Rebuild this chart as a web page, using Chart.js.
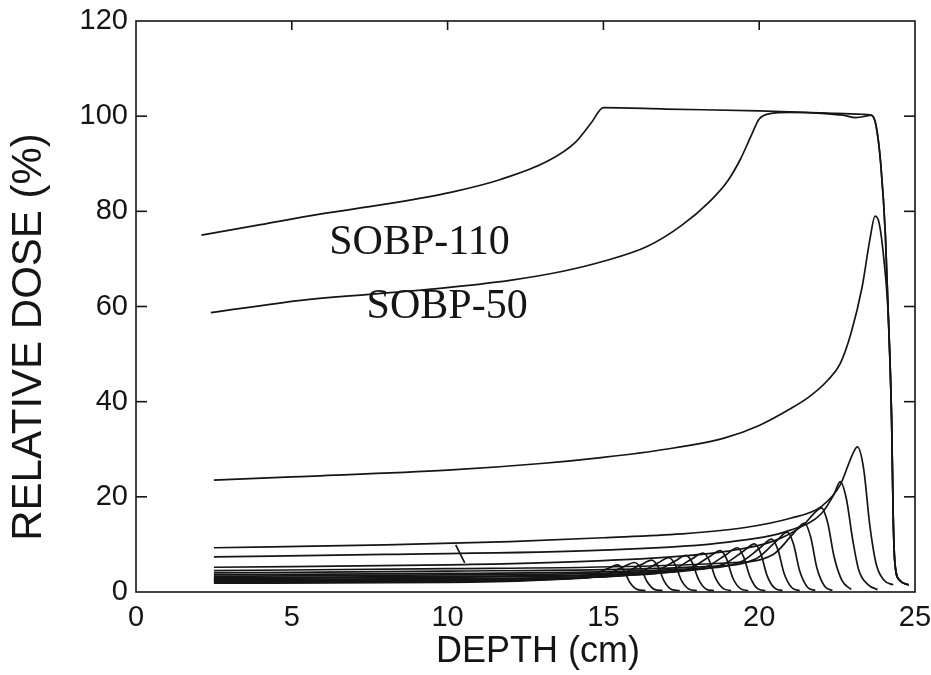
<!DOCTYPE html>
<html>
<head>
<meta charset="utf-8">
<script src="https://cdn.jsdelivr.net/npm/chart.js@4/dist/chart.umd.min.js"></script>
<style>
  html, body { margin: 0; padding: 0; background: #fff; }
  #chart { display: block; }
</style>
</head>
<body>
<canvas id="chart" width="931" height="675"></canvas>
<script>
// Axis ticks
const depthTicks = [0, 5, 10, 15, 20, 25];
const doseTicks = [0, 20, 40, 60, 80, 100, 120];

// Spread-out Bragg peaks
const sobp110Depth = [2.1, 4, 5.9, 8, 10.1, 11.7, 13.2, 14.1, 14.6, 15.0, 17, 20, 22, 23.3, 23.6, 23.75, 23.9, 24.05, 24.15, 24.25, 24.3, 24.35, 24.5, 24.8];
const sobp110Dose = [75, 77.2, 79.4, 81.5, 84, 86.7, 90.5, 94.5, 98.5, 101.8, 101.5, 101.1, 100.7, 100.4, 100.2, 98, 90, 75, 57, 36, 16, 6.5, 2.5, 1.5];
const sobp50Depth = [2.4, 5.3, 9.4, 12, 13.7, 15, 16.4, 17.5, 18.4, 19.0, 19.4, 19.75, 20.0, 20.4, 21, 22, 22.7, 23.1, 23.5, 23.6, 23.75, 23.9, 24.05, 24.15, 24.25, 24.3, 24.35, 24.5, 24.8];
const sobp50Dose = [58.7, 61.3, 63.6, 65.5, 67.4, 69.5, 72.6, 77, 82, 86.5, 91, 96, 99.4, 100.6, 100.8, 100.6, 100.2, 99.7, 100.1, 100.2, 98, 90, 75, 57, 36, 16, 6.5, 2.5, 1.5];

// Deepest pristine peak
const peakDepth = [2.5, 5, 10, 13, 15, 17, 18.9, 20, 21, 21.6, 22.2, 22.6, 22.95, 23.3, 23.55, 23.72, 23.85, 24.0, 24.15, 24.25, 24.3, 24.35, 24.5, 24.8];
const peakDose = [23.5, 24.2, 25.6, 27, 28.3, 30, 32.4, 35, 38.5, 41, 44.5, 48, 54.5, 64, 74, 79, 77.5, 70, 57, 36, 16, 6.5, 2.5, 1.5];

// Weighted pristine peaks, deep to shallow
const pristineDepths = [
  [2.5, 8, 12, 15, 17.5, 19.5, 21, 22, 22.6, 23.0, 23.15, 23.35, 23.55, 23.75, 24.0, 24.3],
  [2.5, 8, 15, 19, 21, 22, 22.4, 22.6, 22.8, 23.0, 23.2, 23.5, 23.8],
  [2.5, 10, 15, 19, 20.5, 21.4, 21.8, 22.0, 22.2, 22.4, 22.65, 22.95],
  [2.5, 10, 18.95, 20.45, 21.1, 21.45, 21.65, 21.85, 22.1, 22.35],
  [2.5, 10, 18.4, 19.9, 20.55, 20.9, 21.1, 21.3, 21.55, 21.8],
  [2.5, 10, 17.9, 19.4, 20.05, 20.4, 20.6, 20.8, 21.05, 21.3],
  [2.5, 10, 17.35, 18.85, 19.5, 19.85, 20.05, 20.25, 20.5, 20.75],
  [2.5, 10, 16.8, 18.3, 18.95, 19.3, 19.5, 19.7, 19.95, 20.2],
  [2.5, 10, 16.25, 17.75, 18.4, 18.75, 18.95, 19.15, 19.4, 19.65],
  [2.5, 10, 15.7, 17.2, 17.85, 18.2, 18.4, 18.6, 18.85, 19.1],
  [2.5, 10, 15.15, 16.65, 17.3, 17.65, 17.85, 18.05, 18.3, 18.55],
  [2.5, 10, 14.6, 16.1, 16.75, 17.1, 17.3, 17.5, 17.75, 18.0],
  [2.5, 10, 14.05, 15.55, 16.2, 16.55, 16.75, 16.95, 17.2, 17.45],
  [2.5, 10, 13.5, 15.0, 15.65, 16.0, 16.2, 16.4, 16.65, 16.9],
  [2.5, 10, 12.95, 14.45, 15.1, 15.45, 15.65, 15.85, 16.1, 16.35]
];
const pristineDoses = [
  [9.3, 9.9, 10.6, 11.4, 12.2, 13.5, 15.5, 18, 22.5, 29, 30.5, 26, 14, 6, 2.5, 1.5],
  [7.4, 7.9, 8.8, 10.5, 13, 16.5, 20.5, 23.2, 19.5, 11, 4.5, 1.5, 0.5],
  [5.2, 5.7, 6.6, 8.6, 10.8, 14, 16.8, 17.7, 14.5, 7.5, 2.5, 0.5],
  [4.5, 4.9, 6.1, 7.9, 12.3, 14.5, 11.6, 5.1, 1.2, 0.3],
  [4.0, 4.4, 5.4, 7.0, 10.7, 12.6, 10.1, 4.4, 1.0, 0.3],
  [3.6, 3.9, 4.9, 6.3, 9.4, 11.1, 8.9, 3.9, 0.9, 0.3],
  [3.3, 3.6, 4.5, 5.8, 8.6, 10.1, 8.1, 3.5, 0.8, 0.3],
  [3.0, 3.3, 4.1, 5.3, 7.9, 9.3, 7.4, 3.3, 0.7, 0.3],
  [2.8, 3.1, 3.8, 4.9, 7.4, 8.7, 7.0, 3.0, 0.7, 0.3],
  [2.6, 2.8, 3.5, 4.6, 7.0, 8.2, 6.6, 2.9, 0.7, 0.3],
  [2.45, 2.7, 3.3, 4.3, 6.5, 7.7, 6.2, 2.7, 0.6, 0.3],
  [2.3, 2.5, 3.1, 4.0, 6.1, 7.2, 5.8, 2.5, 0.6, 0.3],
  [2.15, 2.35, 2.9, 3.8, 5.7, 6.7, 5.4, 2.3, 0.5, 0.3],
  [2.0, 2.2, 2.7, 3.5, 5.3, 6.2, 5.0, 2.2, 0.5, 0.3],
  [1.85, 2.0, 2.5, 3.2, 4.8, 5.7, 4.6, 2.0, 0.5, 0.3]
];

// Small stray stroke in the scan
const markDepth = [10.26, 10.55];
const markDose = [9.9, 6.1];

const ink = "#151515";

function toPoints(xs, ys) {
  return xs.map((x, i) => ({ x, y: ys[i] }));
}

function curve(xs, ys) {
  return {
    data: toPoints(xs, ys),
    showLine: true,
    borderColor: ink,
    borderWidth: 1.7,
    pointRadius: 0,
    cubicInterpolationMode: "monotone",
    fill: false,
  };
}

const datasets = [
  curve(sobp110Depth, sobp110Dose),
  curve(sobp50Depth, sobp50Dose),
  curve(peakDepth, peakDose),
  ...pristineDepths.map((d, i) => curve(d, pristineDoses[i])),
  curve(markDepth, markDose),
];

// Frame, inward ticks, titles and curve labels
const framePlugin = {
  id: "frame",
  afterDraw(chart) {
    const { ctx, chartArea: a, scales } = chart;
    const x = scales.x, y = scales.y;
    ctx.save();
    ctx.strokeStyle = ink;
    ctx.lineWidth = 1.6;
    ctx.strokeRect(a.left, a.top, a.right - a.left, a.bottom - a.top);
    const seg = (x1, y1, x2, y2) => {
      ctx.beginPath();
      ctx.moveTo(x1, y1);
      ctx.lineTo(x2, y2);
      ctx.stroke();
    };
    doseTicks.slice(1, -1).forEach((v) => {
      const py = y.getPixelForValue(v);
      seg(a.left, py, a.left + 11, py);
      seg(a.right - 11, py, a.right, py);
    });
    depthTicks.slice(1, -1).forEach((v) => {
      const px = x.getPixelForValue(v);
      seg(px, a.top, px, a.top + 9);
    });

    ctx.fillStyle = ink;
    ctx.save();
    ctx.translate(29, 337);
    ctx.rotate(-Math.PI / 2);
    ctx.font = '42px "Liberation Sans", Arial, sans-serif';
    ctx.textAlign = "center";
    ctx.textBaseline = "middle";
    ctx.fillText("RELATIVE DOSE (%)", 0, 0);
    ctx.restore();

    ctx.font = '36px "Liberation Sans", Arial, sans-serif';
    ctx.textAlign = "center";
    ctx.textBaseline = "alphabetic";
    ctx.fillText("DEPTH (cm)", 538, 662);

    ctx.font = '42px "Liberation Serif", "Times New Roman", serif';
    ctx.textAlign = "left";
    ctx.fillText("SOBP-110", x.getPixelForValue(6.2), y.getPixelForValue(71));
    ctx.fillText("SOBP-50", x.getPixelForValue(7.4), y.getPixelForValue(57.6));
    ctx.restore();
  },
};

new Chart(document.getElementById("chart"), {
  type: "scatter",
  data: { datasets },
  options: {
    responsive: false,
    animation: false,
    layout: { padding: { top: 21, right: 16, left: 0, bottom: 0 } },
    plugins: {
      legend: { display: false },
      tooltip: { enabled: false },
    },
    scales: {
      x: {
        type: "linear",
        min: 0,
        max: 25,
        afterBuildTicks: (s) => { s.ticks = depthTicks.map((v) => ({ value: v })); },
        afterFit: (s) => { s.height = 83; s.paddingLeft = 0; s.paddingRight = 0; },
        grid: { display: false, drawTicks: false },
        border: { display: false },
        ticks: {
          padding: 9,
          maxRotation: 0,
          color: ink,
          font: { family: "Liberation Sans", size: 29 },
        },
      },
      y: {
        type: "linear",
        min: 0,
        max: 120,
        afterBuildTicks: (s) => { s.ticks = doseTicks.map((v) => ({ value: v })); },
        afterFit: (s) => { s.width = 136; s.paddingTop = 0; s.paddingBottom = 0; },
        grid: { display: false, drawTicks: false },
        border: { display: false },
        ticks: {
          padding: 8,
          color: ink,
          font: { family: "Liberation Sans", size: 29 },
        },
      },
    },
  },
  plugins: [framePlugin],
});
</script>
</body>
</html>
